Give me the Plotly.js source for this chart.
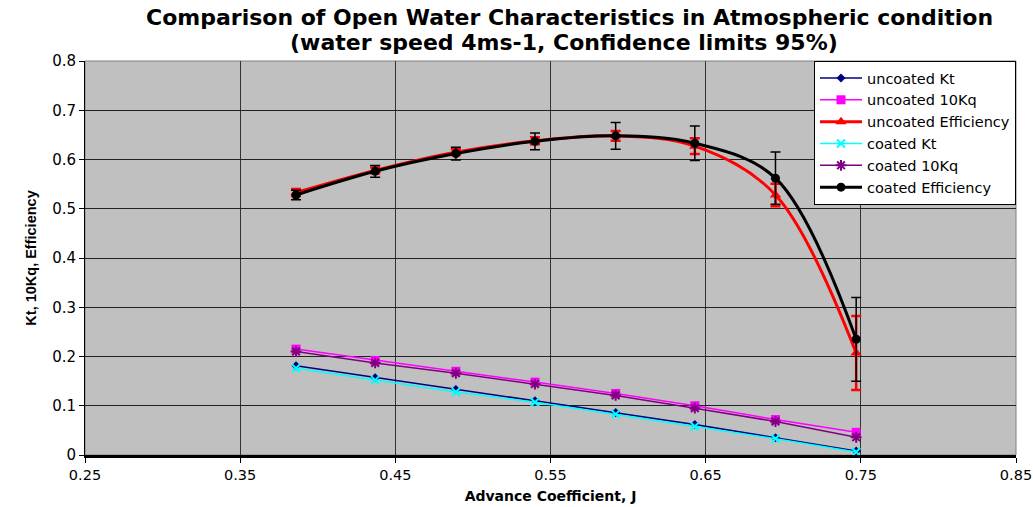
<!DOCTYPE html>
<html><head><meta charset="utf-8">
<script src="https://cdn.plot.ly/plotly-3.0.1.min.js"></script>
<style>html,body{margin:0;padding:0;background:#fff;}#chart{width:1033px;height:507px;}</style>
</head><body><div id="chart"></div>
<script>
const J = [0.386, 0.437, 0.489, 0.540, 0.592, 0.643, 0.695, 0.747];
const uncoatedKt = [0.181, 0.157, 0.133, 0.110, 0.086, 0.062, 0.035, 0.008];
const uncoated10Kq = [0.215, 0.192, 0.170, 0.148, 0.125, 0.100, 0.072, 0.046];
const uncoatedEff = [0.533, 0.578, 0.615, 0.638, 0.648, 0.627, 0.528, 0.207];
const uncoatedEffErr = [0.007, 0.006, 0.006, 0.007, 0.010, 0.016, 0.023, 0.075];
const coatedKt = [0.176, 0.152, 0.128, 0.107, 0.083, 0.058, 0.033, 0.006];
const coated10Kq = [0.210, 0.187, 0.166, 0.144, 0.121, 0.095, 0.068, 0.036];
const coatedEff = [0.528, 0.576, 0.612, 0.637, 0.648, 0.633, 0.562, 0.235];
const coatedEffErr = [0.0095, 0.012, 0.013, 0.017, 0.027, 0.035, 0.053, 0.085];
const xTicks = [0.25, 0.35, 0.45, 0.55, 0.65, 0.75, 0.85];
const yTicks = [0, 0.1, 0.2, 0.3, 0.4, 0.5, 0.6, 0.7, 0.8];
const titleLines = ['Comparison of Open Water Characteristics in Atmospheric condition',
                    '(water speed 4ms-1, Confidence limits 95%)'];

const WIDE = 'DejaVu Sans, Verdana, sans-serif';

const traces = [
  {x: J, y: uncoatedKt, name: 'uncoated Kt', mode: 'lines+markers',
   line: {color: '#000080', width: 1.5}, marker: {symbol: 'diamond', size: 7, color: '#000080'}},
  {x: J, y: uncoated10Kq, name: 'uncoated 10Kq', mode: 'lines+markers',
   line: {color: '#FF00FF', width: 1.5}, marker: {symbol: 'square', size: 9, color: '#FF00FF'}},
  {x: J, y: uncoatedEff, name: 'uncoated Efficiency', mode: 'lines+markers',
   line: {color: '#FF0000', width: 3, shape: 'spline', smoothing: 1}, marker: {symbol: 'triangle-up', size: 10, color: '#FF0000'},
   error_y: {type: 'data', array: uncoatedEffErr, visible: true, color: '#FF0000', thickness: 2.5, width: 5}},
  {x: J, y: coatedKt, name: 'coated Kt', mode: 'lines+markers',
   line: {color: '#00FFFF', width: 1.5}, marker: {symbol: 'x-thin-open', size: 8, color: '#00FFFF', line: {color: '#00FFFF', width: 2}}},
  {x: J, y: coated10Kq, name: 'coated 10Kq', mode: 'lines+markers',
   line: {color: '#800080', width: 1.5}, marker: {symbol: 'asterisk-open', size: 9, color: '#800080', line: {color: '#800080', width: 2}}},
  {x: J, y: coatedEff, name: 'coated Efficiency', mode: 'lines+markers',
   line: {color: '#000000', width: 3, shape: 'spline', smoothing: 1}, marker: {symbol: 'circle', size: 9, color: '#000000'},
   error_y: {type: 'data', array: coatedEffErr, visible: true, color: '#000000', thickness: 1.5, width: 5}}
];

const layout = {
  width: 1033, height: 507,
  margin: {l: 85, r: 17, t: 61, b: 52},
  paper_bgcolor: '#ffffff', plot_bgcolor: '#C0C0C0',
  font: {family: WIDE, color: '#000'},
  xaxis: {range: [0.25, 0.85], tickvals: xTicks, ticktext: xTicks.map(v => v.toFixed(2)),
          showgrid: true, gridcolor: '#333', gridwidth: 1, zeroline: false,
          showline: true, linecolor: '#000', linewidth: 2.5, ticks: 'outside', ticklen: 5, tickcolor: '#000',
          tickfont: {size: 14.5, family: WIDE}, ticklabeloverflow: 'allow',
          title: {text: '<b>Advance Coefficient, J</b>', font: {size: 14, family: WIDE}, standoff: 10}},
  yaxis: {range: [0, 0.8], tickvals: yTicks, ticktext: yTicks.map(v => v === 0 ? '0' : v.toFixed(1)),
          showgrid: true, gridcolor: '#222', gridwidth: 1, zeroline: false,
          showline: true, linecolor: '#000', linewidth: 1, ticks: 'outside', ticklen: 5, tickcolor: '#000',
          tickfont: {size: 15, family: WIDE},
          title: {text: '<b>Kt, 10Kq, Efficiency</b>', font: {size: 14.5, family: 'Arial, Liberation Sans, sans-serif'}, standoff: 12}},
  legend: {x: 1, xanchor: 'right', y: 1, yanchor: 'top', bgcolor: '#ffffff', bordercolor: '#000', borderwidth: 1,
           font: {size: 14.5, family: WIDE}, tracegroupgap: 0, itemwidth: 42},
  annotations: [
    {text: '<b>' + titleLines[0] + '</b>', xref: 'paper', yref: 'paper', x: 0.52, y: 1.11, xanchor: 'center', yanchor: 'middle',
     showarrow: false, font: {size: 22, family: WIDE}},
    {text: '<b>' + titleLines[1] + '</b>', xref: 'paper', yref: 'paper', x: 0.515, y: 1.047, xanchor: 'center', yanchor: 'middle',
     showarrow: false, font: {size: 22, family: WIDE}}
  ],
  shapes: [
    {type: 'rect', xref: 'paper', yref: 'paper', x0: 0, x1: 1, y0: 0, y1: 1, line: {color: '#808080', width: 1}, fillcolor: 'rgba(0,0,0,0)', layer: 'below'}
  ],
  showlegend: true
};

Plotly.newPlot('chart', traces, layout, {displayModeBar: false, staticPlot: true});
</script>
</body></html>
